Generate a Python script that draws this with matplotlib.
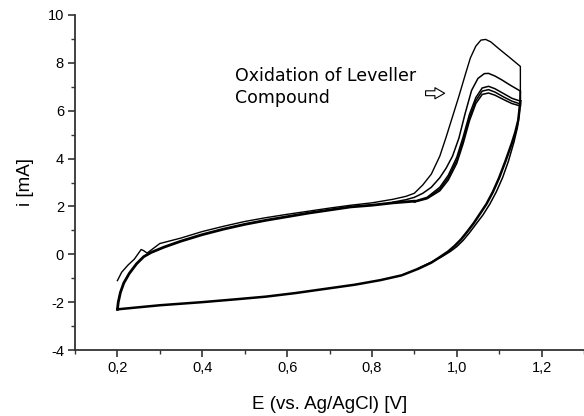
import matplotlib
matplotlib.use("Agg")
import matplotlib.pyplot as plt
from matplotlib.ticker import MultipleLocator, FuncFormatter

# first scan (thin outer loop), starts at 0.2 V / -1.1 mA
cyc1_E = [0.200, 0.210, 0.225, 0.240, 0.250, 0.256, 0.262, 0.270, 0.300, 0.350,
          0.400, 0.450, 0.500, 0.550, 0.600, 0.650, 0.700, 0.750, 0.800, 0.850,
          0.880, 0.900, 0.920, 0.940, 0.960, 0.975, 0.990, 1.005, 1.020, 1.032,
          1.045, 1.057, 1.068, 1.080, 1.100, 1.125, 1.150, 1.150]
cyc1_i = [-1.10, -0.75, -0.45, -0.20, 0.05, 0.20, 0.15, 0.05, 0.45, 0.68,
          0.95, 1.17, 1.37, 1.53, 1.67, 1.80, 1.93, 2.05, 2.15, 2.30,
          2.42, 2.55, 2.90, 3.35, 4.10, 4.90, 5.75, 6.60, 7.50, 8.20,
          8.70, 8.95, 8.98, 8.88, 8.58, 8.22, 7.85, 6.50]

# forward scan, common low part of the later cycles
fwd_E = [0.200, 0.202, 0.207, 0.215, 0.228, 0.245, 0.262, 0.280, 0.310, 0.350,
         0.400, 0.450, 0.500, 0.550, 0.600, 0.650, 0.700, 0.750, 0.800, 0.850, 0.900]
fwd_i = [-2.30, -2.00, -1.60, -1.20, -0.80, -0.40, -0.10, 0.08, 0.30, 0.55,
         0.82, 1.05, 1.25, 1.42, 1.57, 1.72, 1.85, 1.98, 2.05, 2.15, 2.22]

# second cycle, peak part
cyc2_E = [0.850, 0.880, 0.900, 0.920, 0.940, 0.960, 0.975, 0.990, 1.005, 1.020,
          1.035, 1.050, 1.065, 1.075, 1.090, 1.107, 1.125, 1.150, 1.150]
cyc2_i = [2.18, 2.28, 2.38, 2.55, 2.80, 3.20, 3.60, 4.10, 4.85, 5.90,
          6.85, 7.35, 7.55, 7.56, 7.45, 7.28, 7.08, 6.82, 6.20]

# cycles 3-5, peak part
up_E = [0.900, 0.930, 0.960, 0.980, 1.000, 1.015, 1.030, 1.045, 1.060, 1.075,
        1.090, 1.110, 1.130, 1.150]
cyc3_i = [2.22, 2.38, 2.80, 3.30, 4.05, 4.90, 5.85, 6.55, 6.95, 7.02,
          6.92, 6.72, 6.52, 6.40]
cyc4_i = [2.20, 2.35, 2.72, 3.20, 3.92, 4.75, 5.70, 6.42, 6.82, 6.88,
          6.78, 6.58, 6.40, 6.28]
cyc5_i = [2.18, 2.32, 2.65, 3.10, 3.80, 4.62, 5.58, 6.30, 6.68, 6.74,
          6.65, 6.47, 6.30, 6.20]

# reverse scan
rev_E = [1.150, 1.145, 1.138, 1.130, 1.115, 1.100, 1.085, 1.070, 1.055, 1.040,
         1.025, 1.010, 0.995, 0.980, 0.960, 0.940, 0.910, 0.870, 0.820, 0.760,
         0.700, 0.620, 0.550, 0.480, 0.400, 0.300, 0.200]
rev_i = [6.40, 5.60, 5.10, 4.65, 3.90, 3.20, 2.60, 2.10, 1.70, 1.30,
         0.95, 0.62, 0.35, 0.12, -0.12, -0.35, -0.60, -0.88, -1.08, -1.27,
         -1.42, -1.62, -1.77, -1.88, -2.00, -2.13, -2.30]
rev2_E = [1.150, 1.148, 1.143, 1.135, 1.122, 1.108, 1.093, 1.078, 1.062, 1.047,
          1.030, 1.015, 1.000, 0.985, 0.965, 0.940, 0.910]
rev2_i = [6.80, 6.00, 5.30, 4.70, 3.90, 3.20, 2.60, 2.10, 1.65, 1.30,
          0.90, 0.58, 0.32, 0.12, -0.10, -0.33, -0.58]

fig = plt.figure(figsize=(5.84, 4.16), dpi=100)
ax = fig.add_axes([75 / 584, 66 / 416, 509 / 584, 335 / 416])

k = 'black'
ax.plot(cyc1_E, cyc1_i, color=k, lw=1.0)
ax.plot(fwd_E, fwd_i, color=k, lw=2.0)
ax.plot(cyc2_E, cyc2_i, color=k, lw=1.1)
ax.plot(up_E, cyc3_i, color=k, lw=1.1)
ax.plot(up_E, cyc4_i, color=k, lw=1.1)
ax.plot(up_E, cyc5_i, color=k, lw=1.1)
ax.plot(rev_E, rev_i, color=k, lw=1.8)
ax.plot(rev2_E, rev2_i, color=k, lw=1.1)

ax.set_xlim(0.1, 1.3)
ax.set_ylim(-4, 10)
for s in ['top', 'right']:
    ax.spines[s].set_visible(False)
for s in ['left', 'bottom']:
    ax.spines[s].set_linewidth(1.3)
    ax.spines[s].set_color('#333333')

ax.xaxis.set_major_locator(MultipleLocator(0.2))
ax.xaxis.set_minor_locator(MultipleLocator(0.1))
ax.yaxis.set_major_locator(MultipleLocator(2))
ax.yaxis.set_minor_locator(MultipleLocator(1))
ax.xaxis.set_major_formatter(FuncFormatter(lambda v, p: ('%.1f' % v).replace('.', ',')))
ax.yaxis.set_major_formatter(FuncFormatter(lambda v, p: '%d' % round(v)))
ax.tick_params(which='major', direction='out', length=5, width=1.2, labelsize=10.5,
               pad=3, color='#333333')
ax.tick_params(which='minor', direction='out', length=3, width=1.0, color='#333333')
for lab in ax.get_xticklabels() + ax.get_yticklabels():
    lab.set_family('Liberation Sans')

ax.set_xlabel('E (vs. Ag/AgCl) [V]', family='Liberation Sans', fontsize=13.5, labelpad=15)
ax.set_ylabel('i [mA]', family='Liberation Sans', fontsize=13.5, labelpad=10)

ax.text(0.478, 6.15, 'Oxidation of Leveller\nCompound', fontsize=12.5,
        family='DejaVu Sans', va='bottom', ha='left', linespacing=1.3)
ax.annotate('', xy=(0.978, 6.73), xytext=(0.92, 6.73),
            arrowprops=dict(arrowstyle='simple,head_length=0.7,head_width=0.8,tail_width=0.35',
                            fc='white', ec='black', lw=0.8))

fig.savefig('out.png', dpi=100)
